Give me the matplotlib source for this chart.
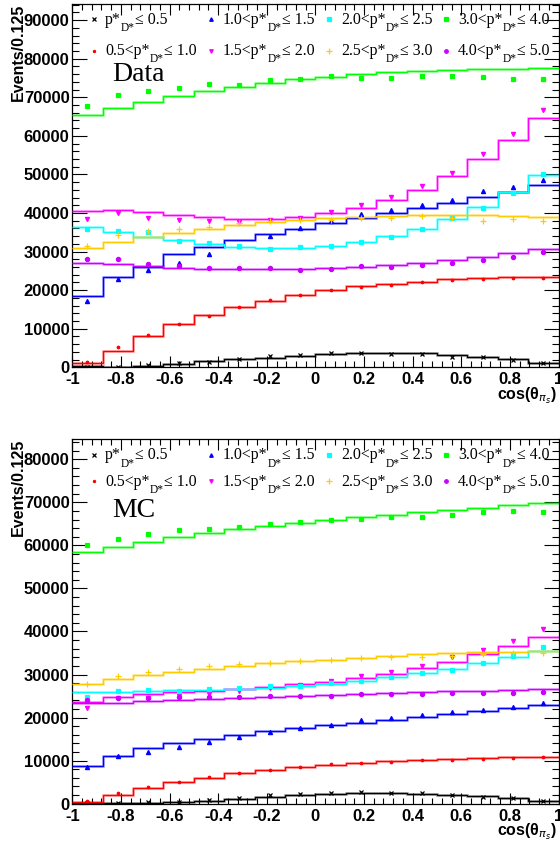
import numpy as np
import matplotlib
matplotlib.use("Agg")
import matplotlib.pyplot as plt
from matplotlib.lines import Line2D
from matplotlib.ticker import MultipleLocator, FuncFormatter

W, H = 560, 844
edges = np.linspace(-1, 1, 17)
centers = 0.5 * (edges[:-1] + edges[1:])

# p*_D* slices
lo_lab = [None, "0.5", "1.0", "1.5", "2.0", "2.5", "3.0", "4.0"]
hi_lab = ["0.5", "1.0", "1.5", "2.0", "2.5", "3.0", "4.0", "5.0"]
colors = ["black", "#ff0000", "#0000ff", "#ff00ff", "#00ffff", "#ffcc00", "#00ff00", "#cc00ff"]
markers = ["x", "o", "^", "v", "s", "+", "s", "o"]
msizes = [3.0, 1.8, 3.0, 3.0, 3.0, 4.5, 3.0, 3.0]

# ---- Data panel: points and MC histograms ----
data_pts_0 = [0, 160, 510, 1040, 1470, 2230, 2930, 3190, 3630, 3630, 3540, 3370, 2750, 2590, 1890, 1040]
data_hist_0 = [340, 160, 340, 780, 1550, 2060, 2500, 2930, 3450, 3800, 3800, 3630, 3190, 2750, 2060, 1040]
data_pts_1 = [1450, 5340, 8370, 11220, 13300, 15710, 17440, 18740, 20040, 20890, 21330, 22190, 22550, 22810, 23070, 23220]
data_hist_1 = [1040, 4300, 8110, 11150, 13640, 15550, 17190, 18740, 19960, 21070, 21670, 22190, 22810, 23150, 23330, 23400]
data_pts_2 = [17200, 22800, 25200, 27100, 29400, 31400, 34000, 36200, 38000, 39700, 40800, 42100, 43400, 45600, 46700, 48500]
data_hist_2 = [18600, 23300, 26100, 29300, 31300, 33000, 34500, 35900, 37300, 38600, 39900, 41200, 42700, 44100, 45500, 47300]
data_pts_3 = [38500, 40000, 38800, 38200, 37900, 37700, 38300, 38600, 40300, 42200, 44200, 47000, 50300, 55300, 60400, 66700]
data_hist_3 = [40500, 40700, 40200, 39600, 38900, 38500, 38500, 38900, 39900, 41200, 43400, 46100, 49700, 53900, 58900, 64700]
data_pts_4 = [35850, 35410, 34990, 32810, 32300, 31520, 30660, 31100, 31520, 32560, 33690, 35930, 38700, 41370, 45260, 50030]
data_hist_4 = [36450, 35150, 33850, 33000, 31960, 31260, 30840, 30900, 31520, 32480, 33950, 35930, 38520, 41630, 45360, 49770]
data_pts_5 = [31520, 34210, 35330, 35850, 36290, 37320, 37920, 38180, 38180, 38780, 38620, 39220, 38700, 38000, 38360, 38000]
data_hist_5 = [31000, 32400, 33850, 34890, 35850, 36810, 37660, 38220, 38620, 39040, 39300, 39480, 39480, 39390, 39220, 39040]
data_pts_6 = [67730, 70500, 71620, 72320, 73510, 73250, 74550, 74730, 75430, 74910, 75060, 75430, 75580, 75320, 74810, 74810]
data_hist_6 = [65400, 67200, 68850, 70240, 71620, 72740, 73780, 74650, 75330, 76020, 76540, 76890, 77140, 77320, 77400, 77500]
data_pts_7 = [27990, 27990, 26780, 26340, 25820, 25660, 25660, 25220, 25560, 26260, 25920, 26440, 27110, 27730, 28670, 29810]
data_hist_7 = [27030, 26700, 26260, 25820, 25560, 25400, 25400, 25480, 25820, 26080, 26520, 26950, 27810, 28510, 29550, 30590]

# ---- MC panel ----
mc_pts_0 = [90, 160, 330, 460, 860, 1400, 1950, 2320, 2490, 2650, 2570, 2410, 1950, 1630, 1250, 700]
mc_hist_0 = [230, 160, 160, 330, 630, 1020, 1490, 1950, 2300, 2500, 2450, 2350, 2100, 1750, 1350, 660]
mc_pts_1 = [630, 2410, 3950, 5040, 6270, 7060, 7830, 8530, 9150, 9520, 9760, 10080, 10150, 10450, 10540, 10780]
mc_hist_1 = [460, 1940, 3650, 5040, 6080, 7090, 7860, 8530, 9000, 9450, 9850, 10150, 10350, 10540, 10780, 10880]
mc_pts_2 = [8460, 11010, 12010, 13170, 14220, 15520, 16700, 17580, 18350, 19370, 19900, 20600, 21230, 21840, 22390, 23320]
mc_hist_2 = [8720, 11040, 12870, 14130, 15140, 16070, 16810, 17550, 18210, 18820, 19520, 20210, 20840, 21530, 22160, 22930]
mc_pts_3 = [22300, 24600, 24600, 25000, 25400, 26200, 26800, 27600, 28500, 29700, 30700, 32000, 34000, 35600, 37900, 40500]
mc_hist_3 = [23690, 24710, 25410, 25880, 26250, 26570, 27110, 27900, 28200, 29100, 30100, 31450, 32900, 34780, 36650, 38790]
mc_pts_4 = [24790, 26180, 26410, 26250, 26650, 26950, 27270, 27340, 27970, 28430, 29360, 30290, 31130, 32650, 34240, 36470]
mc_hist_4 = [25880, 26020, 26180, 26340, 26410, 26650, 26950, 27400, 27850, 28400, 29360, 30400, 31200, 32600, 34050, 35500]
mc_pts_5 = [27740, 29730, 30670, 31220, 31920, 32380, 32680, 33080, 33380, 33770, 34150, 34010, 34380, 34780, 34940, 35080]
mc_hist_5 = [27880, 28970, 29830, 30670, 31360, 31990, 32610, 33220, 33450, 33920, 34380, 34700, 34940, 35170, 35310, 35540]
mc_pts_6 = [60000, 61500, 62700, 63500, 63900, 64200, 65000, 65500, 65870, 66180, 66490, 66560, 66950, 67640, 67880, 67640]
mc_hist_6 = [58400, 59650, 60860, 61880, 62810, 63740, 64510, 65280, 65900, 66530, 67070, 67690, 68300, 68760, 69320, 69780]
mc_pts_7 = [24090, 24620, 24620, 24860, 24860, 24860, 25020, 25090, 25090, 25480, 25480, 25480, 25640, 25720, 25790, 25950]
mc_hist_7 = [23320, 23460, 23780, 24090, 24320, 24550, 24860, 25050, 25250, 25480, 25720, 25950, 26110, 26250, 26480, 26650]

top_pts = [data_pts_0, data_pts_1, data_pts_2, data_pts_3, data_pts_4, data_pts_5, data_pts_6, data_pts_7]
top_hist = [data_hist_0, data_hist_1, data_hist_2, data_hist_3, data_hist_4, data_hist_5, data_hist_6, data_hist_7]
bot_pts = [mc_pts_0, mc_pts_1, mc_pts_2, mc_pts_3, mc_pts_4, mc_pts_5, mc_pts_6, mc_pts_7]
bot_hist = [mc_hist_0, mc_hist_1, mc_hist_2, mc_hist_3, mc_hist_4, mc_hist_5, mc_hist_6, mc_hist_7]

SANS = "Liberation Sans"
SERIF = "Liberation Serif"

fig = plt.figure(figsize=(W / 100, H / 100), dpi=100)
renderer = fig.canvas.get_renderer()


def px(x, y):
    return x / W, 1 - y / H


def legend_entry(x_mark, x_text, y_base, k):
    fig.add_artist(Line2D([x_mark / W], [1 - (y_base - 4.5) / H], marker=markers[k], color=colors[k],
                          ms=msizes[k] * 0.85, mew=0.9, linestyle="none", transform=fig.transFigure))
    main = "p*" if lo_lab[k] is None else lo_lab[k] + "<p*"
    t1 = fig.text(*px(x_text, y_base), main, fontsize=11.4, family=SERIF, va="baseline")
    w1 = t1.get_window_extent(renderer).width
    t2 = fig.text(*px(x_text + w1, y_base + 7.5), "D*", fontsize=8.3, family=SERIF, va="baseline")
    w2 = t2.get_window_extent(renderer).width
    fig.text(*px(x_text + w1 + w2 + 0.5, y_base), "\u2264 " + hi_lab[k], fontsize=11.4,
             family=SERIF, va="baseline")


def panel(top_px, bot_px, ymax, hists, pts, tag, row_base):
    ax = fig.add_axes([72.3 / W, 1 - bot_px / H, (558.5 - 72.3) / W, (bot_px - top_px) / H])
    for k in range(8):
        ax.stairs(hists[k], edges, baseline=None, color=colors[k], lw=2.0, alpha=0.3, zorder=2)
        ax.stairs(hists[k], edges, baseline=None, color=colors[k], lw=1.0, zorder=3)
        ax.plot(centers, pts[k], linestyle="none", marker=markers[k], color=colors[k],
                ms=msizes[k], mew=0.9, zorder=4)
    ax.set_xlim(-1, 1)
    ax.set_ylim(0, ymax)
    ax.xaxis.set_major_locator(MultipleLocator(0.2))
    ax.xaxis.set_minor_locator(MultipleLocator(0.04))
    ax.yaxis.set_major_locator(MultipleLocator(10000))
    ax.yaxis.set_minor_locator(MultipleLocator(2000))
    ax.xaxis.set_major_formatter(FuncFormatter(lambda v, p: "%g" % round(v, 2)))
    ax.yaxis.set_major_formatter(FuncFormatter(lambda v, p: "%d" % v))
    ax.tick_params(which="both", direction="in", top=True, right=True, width=0.8)
    ax.tick_params(axis="x", which="major", length=7.9, pad=3.5)
    ax.tick_params(axis="x", which="minor", length=4.0)
    ax.tick_params(axis="y", which="major", length=10.5, pad=2)
    ax.tick_params(axis="y", which="minor", length=5.2)
    for lab in ax.get_xticklabels() + ax.get_yticklabels():
        lab.set_fontfamily(SANS)
        lab.set_fontweight("bold")
        lab.set_fontsize(12)
    for s in ax.spines.values():
        s.set_linewidth(0.9)

    fig.text(*px(18, top_px), "Events/0.125", rotation=90, ha="center", va="top",
             family=SANS, fontweight="bold", fontsize=11.5)
    fig.text(*px(557, bot_px + 28), "cos(\u03b8$_{\\pi_{s}}$)", ha="right", va="center",
             family=SANS, fontweight="bold", fontsize=11.5)
    fig.text(*px(112, top_px + tag[1]), tag[0], family=SERIF, fontsize=20, va="baseline")

    xm = [94, 211, 329, 446]
    xt = [105, 223, 341, 458]
    for k in range(8):
        c, r = k // 2, k % 2
        legend_entry(xm[c], xt[c], top_px + row_base[r], k)
    return ax


panel(4, 367.3, 94200, top_hist, top_pts, ("Data", 77), (19.5, 51))
panel(439, 803.7, 84700, bot_hist, bot_pts, ("MC", 77.7), (20.3, 46.5))

fig.savefig("out.png", dpi=100)
